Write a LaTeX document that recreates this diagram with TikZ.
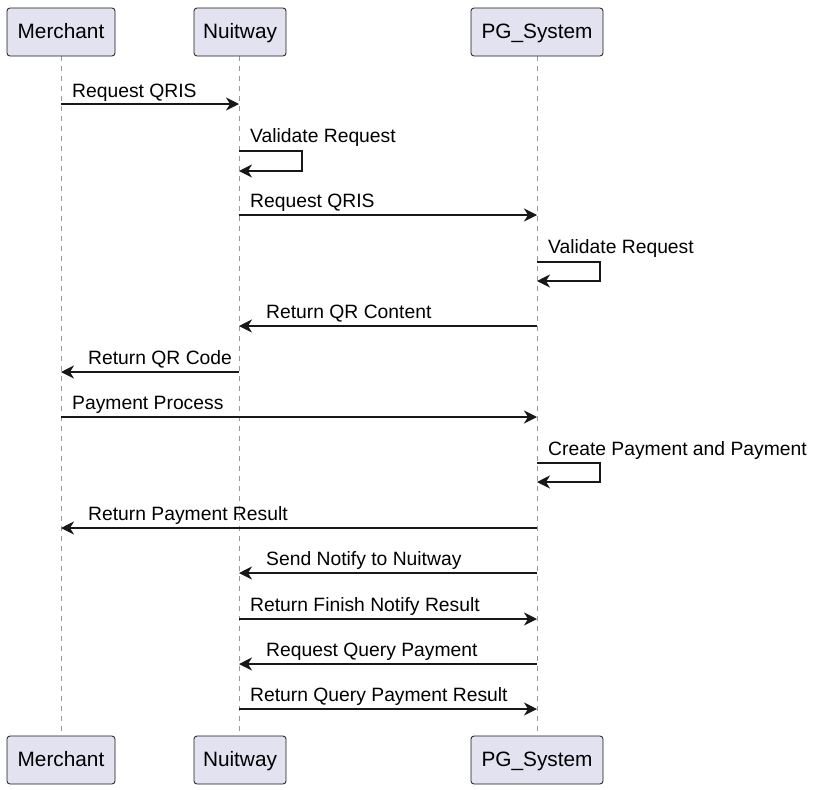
\documentclass[tikz,border=0pt]{standalone}
\usepackage{fontspec}
\setmainfont{Liberation Sans}
\usetikzlibrary{arrows.meta}
\definecolor{boxfill}{HTML}{E2E2F0}
\definecolor{ink}{HTML}{181818}
\begin{document}
\begin{tikzpicture}[x=1pt,y=-1pt,
  part/.style={draw=ink,fill=boxfill,rounded corners=3pt,line width=0.8pt,minimum height=48pt,inner sep=0pt,text height=15pt,text depth=2pt,font=\fontsize{20.8}{24}\selectfont},
  life/.style={draw=gray!80,dashed,dash pattern=on 5pt off 5pt,line width=0.8pt},
  msg/.style={draw=ink,line width=1.2pt,-{Stealth[length=13pt,width=13pt,inset=4pt]}},
  lbl/.style={anchor=base west,inner sep=0pt,font=\fontsize{19.3}{22}\selectfont}]
\useasboundingbox (0,0) rectangle (817,790);
% lifelines
\coordinate (mT) at (61,56); \coordinate (mB) at (61,736);
\coordinate (nT) at (239,56); \coordinate (nB) at (239,736);
\coordinate (pT) at (537,56); \coordinate (pB) at (537,736);
\draw[life] (mT) -- (mB);
\draw[life] (nT) -- (nB);
\draw[life] (pT) -- (pB);
% participants
\node[part,minimum width=108pt] (m1) at (61,32) {Merchant};
\node[part,minimum width=92pt] (n1) at (240,32) {Nuitway};
\node[part,minimum width=132pt] (p1) at (537,32) {PG\_System};
\node[part,minimum width=108pt] (m2) at (61,760) {Merchant};
\node[part,minimum width=92pt] (n2) at (240,760) {Nuitway};
\node[part,minimum width=132pt] (p2) at (537,760) {PG\_System};
% messages
\draw[msg] (mT|-0,104) -- (nT|-0,104);
\node[lbl] (l1) at (72,97) {Request QRIS};
\draw[msg] (nT|-0,151) -- (302,151) -- (302,171) -- (nT|-0,171);
\node[lbl] (l2) at (250,142) {Validate Request};
\draw[msg] (nT|-0,215) -- (pT|-0,215);
\node[lbl] (l3) at (250,207) {Request QRIS};
\draw[msg] (pT|-0,262) -- (600,262) -- (600,281) -- (pT|-0,281);
\node[lbl] (l4) at (548,253) {Validate Request};
\draw[msg] (pT|-0,326) -- (nT|-0,326);
\node[lbl] (l5) at (266,318) {Return QR Content};
\draw[msg] (nT|-0,372) -- (mT|-0,372);
\node[lbl] (l6) at (88,364) {Return QR Code};
\draw[msg] (mT|-0,417) -- (pT|-0,417);
\node[lbl] (l7) at (72,409) {Payment Process};
\draw[msg] (pT|-0,463) -- (600,463) -- (600,482) -- (pT|-0,482);
\node[lbl] (l8) at (548,455) {Create Payment and Payment};
\draw[msg] (pT|-0,528) -- (mT|-0,528);
\node[lbl] (l9) at (88,520) {Return Payment Result};
\draw[msg] (pT|-0,573) -- (nT|-0,573);
\node[lbl] (l10) at (266,565) {Send Notify to Nuitway};
\draw[msg] (nT|-0,619) -- (pT|-0,619);
\node[lbl] (l11) at (250,611) {Return Finish Notify Result};
\draw[msg] (pT|-0,664) -- (nT|-0,664);
\node[lbl] (l12) at (266,656) {Request Query Payment};
\draw[msg] (nT|-0,709) -- (pT|-0,709);
\node[lbl] (l13) at (250,701) {Return Query Payment Result};
\end{tikzpicture}
\end{document}
